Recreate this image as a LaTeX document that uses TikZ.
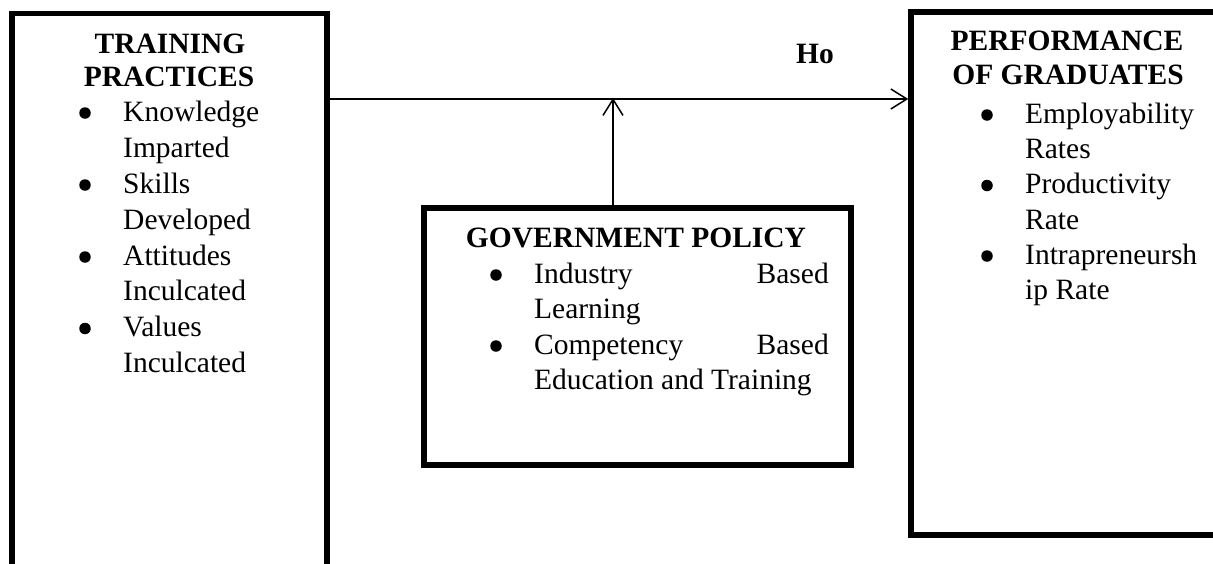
\documentclass[tikz,border=0pt]{standalone}
\usepackage{fontspec}
\setmainfont{Liberation Serif}
\usetikzlibrary{arrows.meta}
\begin{document}
\begin{tikzpicture}[x=1pt,y=-1pt,
  box/.style={draw, line width=5.5pt, inner sep=0pt, outer sep=0pt, anchor=north west},
  head/.style={anchor=base, inner sep=0pt, font=\fontsize{29.5}{33}\selectfont\bfseries},
  item/.style={anchor=base west, inner sep=0pt, font=\fontsize{29.5}{35}\selectfont},
  itemr/.style={item, anchor=base east},
  dot/.style={circle, fill, inner sep=0pt, minimum size=11.5pt},
  arr/.style={-{Straight Barb[length=16pt,width=20pt,line width=1.5pt]}, line width=1.5pt}]
\useasboundingbox (0,0) rectangle (1213,563);
\clip (0,0) rectangle (1213,563);

% the three frames
\node[box, minimum width=315pt, minimum height=620pt] (train) at (12,13.5) {};
\node[box, minimum width=320pt, minimum height=523pt] (perf) at (911,12) {};
\node[box, minimum width=427pt, minimum height=257pt] (gov) at (424,208) {};

% connectors
\coordinate (join) at (613,99);
\draw[arr, shorten >=2.75pt] (train.east |- join) -- (perf.west |- join);
\draw[arr, shorten >=-1pt] (gov.north -| join) -- (join);
\node[head] (ho) at (815,63) {Ho};

% independent variable
\node[head] (tp1) at (170,53) {TRAINING};
\node[head] (tp2) at (169,86) {PRACTICES};
\node[dot] (tb1) at (85,113) {};
\node[item] (t1) at (123,121) {Knowledge};
\node[item] (t2) at (123,157) {Imparted};
\node[dot] (tb2) at (85,185) {};
\node[item] (t3) at (123,193) {Skills};
\node[item] (t4) at (123,229) {Developed};
\node[dot] (tb3) at (85,257) {};
\node[item] (t5) at (123,265) {Attitudes};
\node[item] (t6) at (123,300.5) {Inculcated};
\node[dot] (tb4) at (85,328.5) {};
\node[item] (t7) at (123,336.5) {Values};
\node[item] (t8) at (123,372) {Inculcated};

% dependent variable
\node[head] (pg1) at (1067,50) {PERFORMANCE};
\node[head] (pg2) at (1068,84) {OF GRADUATES};
\node[dot] (pb1) at (987,115) {};
\node[item] (p1) at (1025,123) {Employability};
\node[item] (p2) at (1025,158) {Rates};
\node[dot] (pb2) at (987,185.5) {};
\node[item] (p3) at (1025,193.5) {Productivity};
\node[item] (p4) at (1025,229) {Rate};
\node[dot] (pb3) at (987,256) {};
\node[item] (p5) at (1025,264) {Intrapreneursh};
\node[item] (p6) at (1025,299.5) {ip Rate};

% moderating variable
\node[head] (gp) at (636,247) {GOVERNMENT POLICY};
\node[dot] (gb1) at (496,275) {};
\node[item] (g1) at (534,283) {Industry};
\node[itemr] (g1r) at (829,283) {Based};
\node[item] (g2) at (534,318) {Learning};
\node[dot] (gb2) at (496,346) {};
\node[item] (g3) at (534,354) {Competency};
\node[itemr] (g3r) at (829,354) {Based};
\node[item] (g4) at (534,389) {Education and Training};
\end{tikzpicture}
\end{document}
